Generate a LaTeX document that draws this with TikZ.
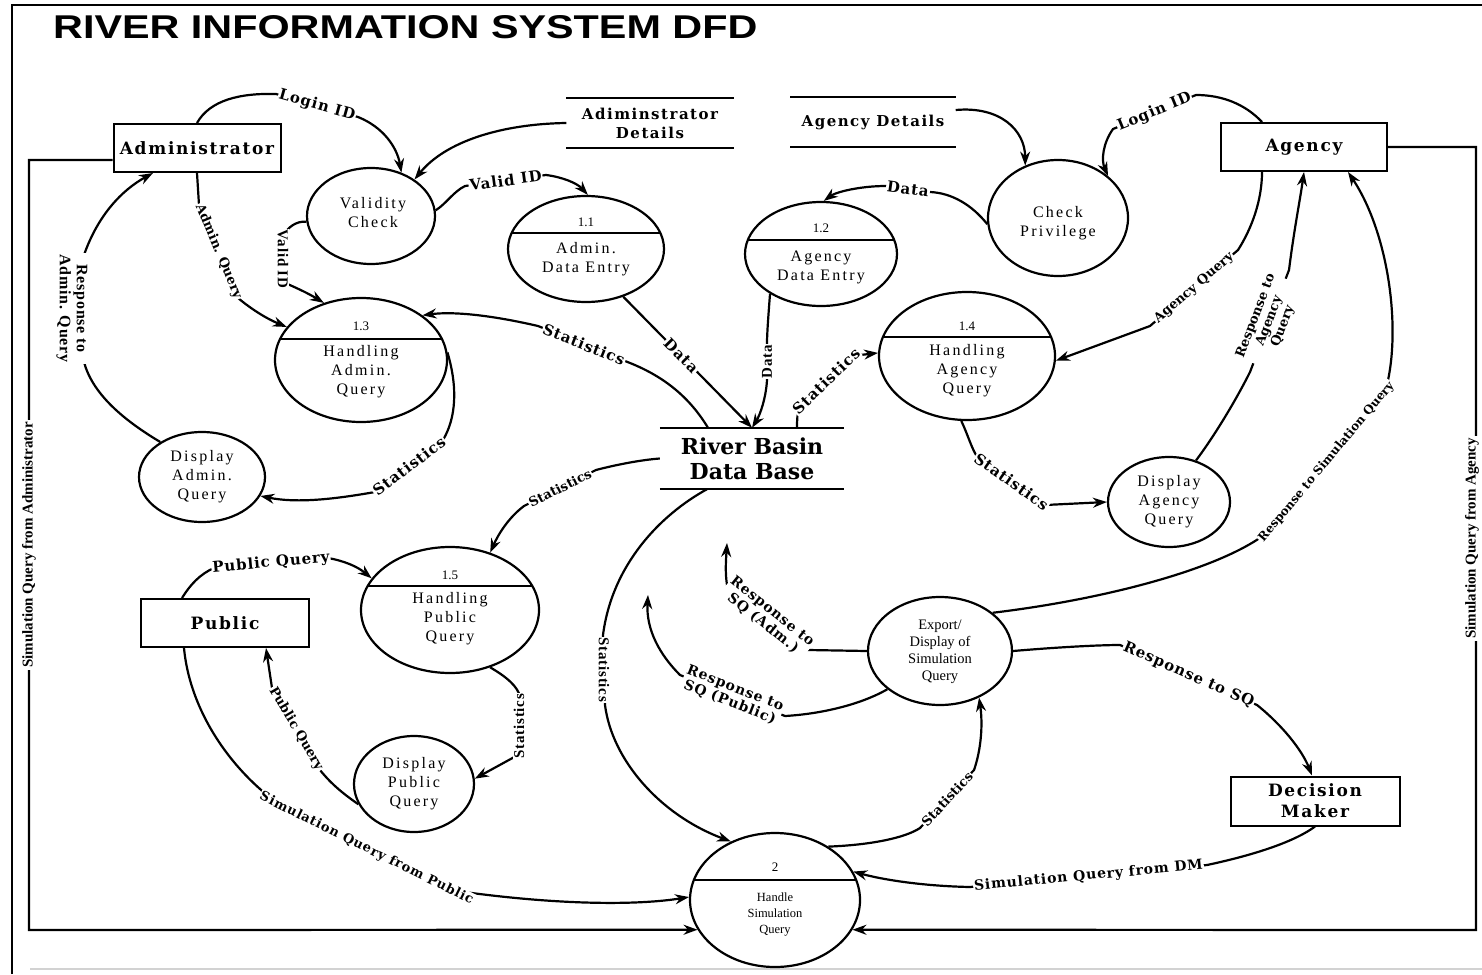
\documentclass[tikz,border=0pt]{standalone}
\usepackage{fontspec}
\usepackage{graphicx}
\usetikzlibrary{shapes.geometric,arrows.meta,calc}
\setmainfont{Liberation Serif}
\newfontfamily\titlefam{Liberation Sans}
\newfontfamily\heavy[LetterSpace=6]{DejaVu Serif}
\newfontfamily\heavyw[LetterSpace=10]{DejaVu Serif}
\newfontfamily\heavydb{DejaVu Serif}
\newfontfamily\narrow[LetterSpace=5]{Liberation Serif}
\newfontfamily\procfam[LetterSpace=14]{Liberation Serif}

\tikzset{
  lab/.style={font=\heavy\bfseries\fontsize{15}{16}\selectfont, fill=white, inner sep=1pt, align=center},
  labn/.style={font=\heavydb\bfseries\fontsize{13}{14.5}\selectfont, fill=white, inner sep=1pt, align=center},
  labv/.style={font=\narrow\bfseries\fontsize{15}{16}\selectfont, fill=white, inner sep=1pt, align=center},
  frm/.style={font=\bfseries\fontsize{15}{16}\selectfont, fill=white, inner sep=2pt},
  ent/.style={draw, line width=2pt, minimum width=167pt, minimum height=48pt, inner sep=0pt, align=center, font=\heavyw\bfseries\fontsize{17}{21}\selectfont},
  proc/.style={draw, ellipse, line width=2.2pt, inner sep=0pt},
  ptxt/.style={font=\procfam\fontsize{16}{19}\selectfont, align=center, inner sep=0pt},
  stxt/.style={font=\fontsize{12.5}{16}\selectfont, align=center, inner sep=0pt},
  ntxt/.style={font=\fontsize{13}{15}\selectfont, inner sep=0pt},
  store/.style={minimum height=50pt, inner sep=0pt, align=center, font=\heavyw\bfseries\fontsize{15}{19}\selectfont},
  storeline/.style={line width=2pt},
  divider/.style={line width=1.4pt},
  flow/.style={line width=2.2pt, -{Stealth[length=14pt,width=10pt]}},
}

\begin{document}
\begin{tikzpicture}[x=1pt,y=-1pt]
\useasboundingbox (0,0) rectangle (1482,974);

% sheet border
\draw[line width=2.6pt] (12,974) -- (12,5) -- (1482,5);
\draw[gray!35, line width=1.5pt] (30,969) -- (1482,969);

% title
\node[anchor=north west, inner sep=0pt] (title) at (53,15)
  {\resizebox{704pt}{23pt}{\titlefam\bfseries RIVER INFORMATION SYSTEM DFD}};

% external entities
\node[ent] (adm) at (197,148) {Administrator};
\node[ent, minimum width=166pt] (agy) at (1304,147) {Agency};
\node[ent, minimum width=168pt] (pub) at (225,623) {Public};
\node[ent, minimum width=169pt, minimum height=49pt] (dm) at (1315,801) {Decision\\Maker};

% data stores
\node[store, minimum width=167pt] (admd) at (650,123) {Adiminstrator\\Details};
\node[store, minimum width=165pt] (agyd) at (873,122) {Agency Details};
\node[store, minimum width=184pt, minimum height=61pt, font=\heavydb\bfseries\fontsize{22}{25}\selectfont] (db) at (752,458.5) {River Basin\\Data Base};
\foreach \s in {admd,agyd,db}{
  \draw[storeline] (\s.north west) -- (\s.north east);
  \draw[storeline] (\s.south west) -- (\s.south east);
}

% processes
\node[proc, minimum width=128pt, minimum height=96pt] (vc) at (371,216) {};
\node[ptxt] (vct) at (373,213) {Validity\\Check};

\node[proc, minimum width=156pt, minimum height=106pt] (p11) at (586,249) {};
\draw[divider] ([shift={(-74.4,-16)}]p11.center) -- ([shift={(74.4,-16)}]p11.center);
\node[ntxt] (p11n) at (586,222) {1.1};
\node[ptxt] (p11t) at (586,259) {Admin.\\Data Entry};

\node[proc, minimum width=152pt, minimum height=104pt] (p12) at (821,254) {};
\draw[divider] ([shift={(-73.2,-14)}]p12.center) -- ([shift={(73.2,-14)}]p12.center);
\node[ntxt] (p12n) at (821,228) {1.2};
\node[ptxt] (p12t) at (821,267) {Agency\\Data Entry};

\node[proc, minimum width=140pt, minimum height=116pt] (cp) at (1058,218) {};
\node[ptxt] (cpt) at (1058,223) {Check\\Privilege};

\node[proc, minimum width=172pt, minimum height=124pt] (p13) at (361,360) {};
\draw[divider] ([shift={(-80.9,-21)}]p13.center) -- ([shift={(80.9,-21)}]p13.center);
\node[ntxt] (p13n) at (361,326) {1.3};
\node[ptxt] (p13t) at (361,372) {Handling\\Admin.\\Query};

\node[proc, minimum width=176pt, minimum height=128pt] (p14) at (967,356) {};
\draw[divider] ([shift={(-84,-19)}]p14.center) -- ([shift={(84,-19)}]p14.center);
\node[ntxt] (p14n) at (967,326) {1.4};
\node[ptxt] (p14t) at (967,371) {Handling\\Agency\\Query};

\node[proc, minimum width=126pt, minimum height=90pt] (dam) at (202,477) {};
\node[ptxt] (damt) at (202,477) {Display\\Admin.\\Query};

\node[proc, minimum width=122pt, minimum height=90pt] (dag) at (1169,502) {};
\node[ptxt] (dagt) at (1169,502) {Display\\Agency\\Query};

\node[proc, minimum width=178pt, minimum height=126pt] (p15) at (450,610) {};
\draw[divider] ([shift={(-82.3,-24)}]p15.center) -- ([shift={(82.3,-24)}]p15.center);
\node[ntxt] (p15n) at (450,575) {1.5};
\node[ptxt] (p15t) at (450,619) {Handling\\Public\\Query};

\node[proc, minimum width=120pt, minimum height=96pt] (dpq) at (414,784) {};
\node[ptxt] (dpqt) at (414,784) {Display\\Public\\Query};

\node[proc, minimum width=144pt, minimum height=108pt] (exp) at (940,651) {};
\node[ptxt, font=\fontsize{14.5}{17}\selectfont] (expt) at (940,652) {Export/\\Display of\\Simulation\\Query};

\node[proc, minimum width=170pt, minimum height=134pt] (hsq) at (775,900) {};
\draw[divider] ([shift={(-81,-20)}]hsq.center) -- ([shift={(81,-20)}]hsq.center);
\node[ntxt] (hsqn) at (775,867) {2};
\node[stxt] (hsqt) at (775,914) {Handle\\Simulation\\Query};

% free arrow ends
\coordinate (sqa) at (727,543);
\coordinate (sqp) at (648,595);

% ---- data flows ----
\draw[flow] (adm.north) .. controls (210,100) and (240,93) .. (276,94)
  -- node[lab, sloped]{Login ID} (358,117)
  .. controls (383,127) and (397,147) .. (vc.55);

\draw[flow] (admd.west) .. controls (500,124) and (445,142) .. (vc.40);

\draw[flow] (vc.5) .. controls (447,203) and (453,192) .. (465,186)
  -- node[lab, sloped]{Valid ID} (546,175)
  .. controls (562,177) and (577,183) .. (p11.88);

\draw[flow] (vc.185) .. controls (296,221) and (288,227) .. (283,236)
  -- node[labv, rotate=-90]{Valid ID} (283,282)
  .. controls (292,286) and (306,292) .. (p13.123);

\draw[flow] (adm.south) -- (199,205)
  -- node[labn, sloped]{Admin. Query} (238,298)
  .. controls (250,308) and (265,318) .. (p13.156);

\draw[flow] (dam.140) .. controls (120,418) and (92,392) .. (84,362)
  -- node[labv, font=\narrow\bfseries\fontsize{16}{17}\selectfont, xshift=-12pt, rotate=-90]{Response to\\Admin. Query} (84,255)
  .. controls (98,215) and (122,190) .. ([xshift=-44pt]adm.south);

\draw[flow] (p13.5) .. controls (458,388) and (456,418) .. (443,440)
  -- node[lab, sloped]{Statistics} (375,492)
  .. controls (330,500) and (295,503) .. (dam.-18);

\draw[flow] ([xshift=-44pt]db.north) .. controls (690,398) and (665,377) .. (630,363)
  -- node[lab, sloped]{Statistics} (538,326)
  .. controls (495,316) and (455,311) .. (p13.36);

\draw[flow] (p11.-52) -- node[lab, sloped, pos=0.45]{Data} (db.north);

\draw[flow] (p12.-142) .. controls (768,320) and (767,335) .. (767,343)
  -- node[labv, rotate=90]{Data} (767,380)
  .. controls (766,398) and (760,415) .. (db.north);

\draw[flow] ([xshift=45pt]db.north) .. controls (797,420) and (797,414) .. (800,406)
  -- node[lab, sloped]{Statistics} (852,356)
  -- (p14.178);

\draw[flow] (cp.185) .. controls (972,205) and (952,193) .. (930,192)
  -- node[lab, sloped]{Data} (886,186)
  .. controls (860,186) and (836,192) .. (p12.87);

\draw[flow] ([yshift=12pt]agyd.east) .. controls (1000,106) and (1025,130) .. (cp.122);

\draw[flow] ([xshift=-42pt]agy.north) .. controls (1245,104) and (1222,95) .. (1196,95)
  -- node[lab, sloped]{Login ID} (1113,129)
  .. controls (1103,143) and (1101,160) .. (cp.40);

\draw[flow] ([xshift=-42pt]agy.south) .. controls (1262,200) and (1252,228) .. (1238,250)
  -- node[labn, sloped]{Agency Query} (1150,326)
  -- (p14.-3);

\draw[flow] (dag.57) .. controls (1215,435) and (1236,400) .. (1250,372)
  -- node[labn, sloped]{Response to\\Agency\\Query} (1289,270)
  .. controls (1294,230) and (1300,200) .. (agy.south);

\draw[flow] (exp.36) .. controls (1100,600) and (1220,570) .. (1268,532)
  -- node[labn, sloped, font=\heavydb\bfseries\fontsize{12}{13}\selectfont]{Response to Simulation Query} (1385,392)
  .. controls (1402,335) and (1390,235) .. ([xshift=44pt]agy.south);

\draw[flow] (p14.-95) .. controls (968,435) and (972,450) .. (978,458)
  -- node[lab, sloped]{Statistics} (1045,505)
  -- (dag.west);

\draw[flow] (db.west) .. controls (640,460) and (615,465) .. (596,470)
  -- node[labn, sloped]{Statistics} (524,506)
  .. controls (508,518) and (498,535) .. (p15.55);

\draw[flow] ([xshift=-43pt]pub.north) .. controls (190,585) and (200,574) .. (214,568)
  -- node[lab, sloped]{Public Query} (328,558)
  .. controls (345,561) and (358,567) .. (p15.158);

\draw[flow] (p15.-55) .. controls (505,676) and (518,686) .. (520,697)
  -- node[labv, rotate=90]{Statistics} (518,755)
  -- (dpq.5);

\draw[flow] (dpq.200) .. controls (345,795) and (332,785) .. (320,770)
  -- node[labn, sloped]{Public Query} (272,688)
  -- ([xshift=41pt]pub.south);

\draw[flow] ([xshift=-41pt]pub.south) .. controls (190,712) and (232,772) .. (283,807)
  -- node[lab, sloped, font=\heavy\bfseries\fontsize{13}{14}\selectfont]{Simulation Query from Public} (450,890)
  .. controls (560,906) and (640,905) .. (hsq.178);

\draw[flow] ([xshift=-45pt]db.south) .. controls (660,515) and (612,565) .. (603,635)
  -- node[labv, rotate=-90]{Statistics} (605,705)
  .. controls (612,760) and (660,815) .. (hsq.127);

\draw[flow] (hsq.45) .. controls (870,845) and (905,838) .. (920,828)
  -- node[labn, sloped]{Statistics} (974,770)
  .. controls (981,750) and (983,725) .. (exp.-50);

\draw[flow] (dm.south) .. controls (1290,845) and (1240,858) .. (1207,865)
  -- node[lab, sloped, font=\heavy\bfseries\fontsize{14}{15}\selectfont]{Simulation Query from DM} (970,887)
  .. controls (920,886) and (880,879) .. (hsq.20);

\draw[flow] (exp.0) .. controls (1060,647) and (1100,645) .. (1120,645)
  -- node[lab, sloped]{Response to SQ} (1257,705)
  .. controls (1282,725) and (1302,750) .. ([xshift=-3pt]dm.north);

\draw[flow] (exp.180) -- (808,650)
  -- node[lab, sloped, font=\heavy\bfseries\fontsize{14}{15}\selectfont]{Response to\\SQ (Adm.)} (727,585)
  .. controls (725,572) and (726,560) .. (sqa);

\draw[flow] (exp.216) .. controls (860,705) and (820,714) .. (785,716)
  -- node[lab, sloped, font=\heavy\bfseries\fontsize{14}{15}\selectfont]{Response to\\SQ (Public)} (680,675)
  .. controls (660,655) and (646,630) .. (sqp);

% simulation queries routed round the sheet
\draw[flow] ([yshift=-12pt]adm.west) -- (29,160)
  -- node[frm, rotate=90]{Simulation Query from Administrator} (29,930)
  -- (hsq.201.5);

\draw[flow] (agy.east) -- (1476,147)
  -- node[frm, xshift=-4pt, rotate=90]{Simulation Query from Agency} (1476,930)
  -- (hsq.-21.5);
\end{tikzpicture}
\end{document}
